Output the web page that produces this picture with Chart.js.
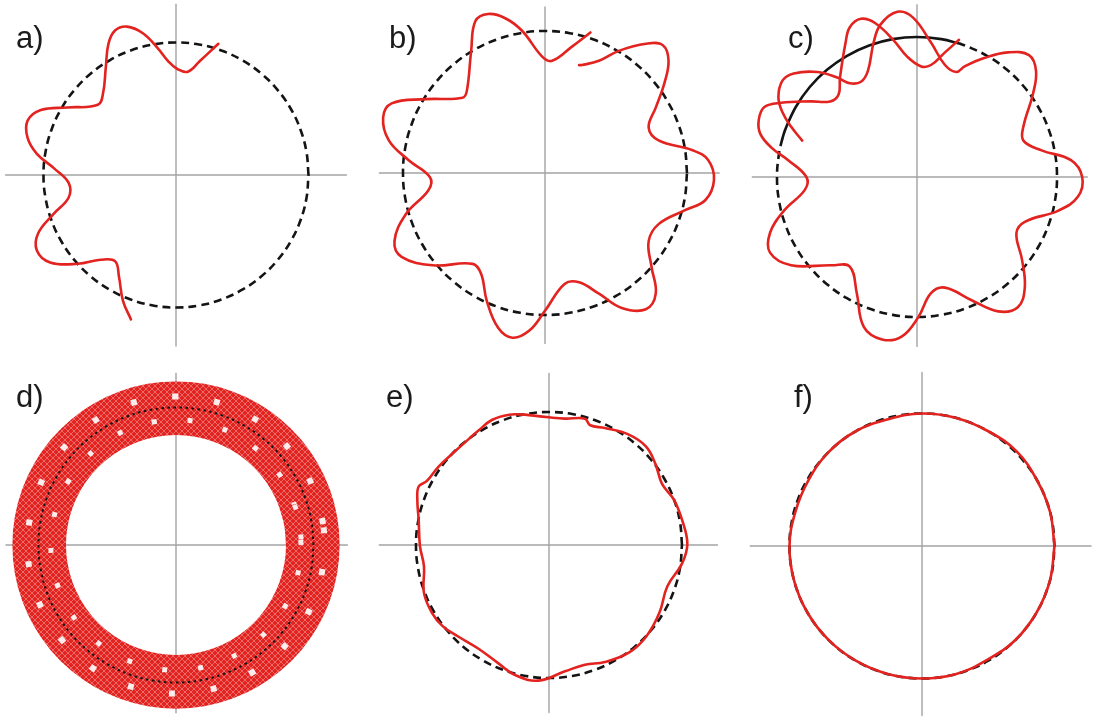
<!DOCTYPE html>
<html>
<head>
<meta charset="utf-8">
<title>Wavy orbits</title>
<script src="https://cdn.jsdelivr.net/npm/chart.js@4.4.1/dist/chart.umd.min.js"></script>
<style>
  html, body { margin: 0; padding: 0; background: #fff; }
  #figure { position: relative; width: 1096px; height: 721px; overflow: hidden; }
  #figure canvas { position: absolute; }
  .label {
    position: absolute;
    font: 31px "Liberation Sans", Arial, sans-serif;
    line-height: 31px;
    color: #1b1b1b;
  }
</style>
</head>
<body>
<div id="figure"></div>
<script>
// Everything is in units of the dashed reference circle (radius 1), y pointing up.
const circleAngles = [0, 10, 20, 30, 40, 50, 60, 70, 80, 90, 100, 110, 120, 130, 140, 150, 160, 170, 180,
  190, 200, 210, 220, 230, 240, 250, 260, 270, 280, 290, 300, 310, 320, 330, 340, 350, 360];
const circleRadius = 1;

// a) short stretch of the orbit
const aX = [0.32, 0.18, 0.09, 0.01, -0.06, -0.14, -0.25, -0.37, -0.46, -0.51, -0.53, -0.55, -0.59, -0.82, -1.02, -1.12,
  -1.12, -1.05, -0.92, -0.81, -0.81, -0.92, -1.04, -1.05, -0.95, -0.74, -0.57, -0.46, -0.43, -0.40, -0.34];
const aY = [0.99, 0.86, 0.78, 0.80, 0.86, 0.96, 1.07, 1.12, 1.09, 0.99, 0.81, 0.62, 0.53, 0.51, 0.49, 0.41,
  0.28, 0.16, 0.05, -0.06, -0.17, -0.29, -0.44, -0.57, -0.66, -0.67, -0.64, -0.65, -0.77, -0.95, -1.09];

// b) about one turn
const bX = [0.32, 0.19, 0.05, -0.02, -0.16, -0.28, -0.40, -0.49, -0.52, -0.55, -0.58, -0.84, -1.08, -1.14, -1.10, -0.96,
  -0.81, -0.82, -0.98, -1.06, -1.01, -0.79, -0.51, -0.45, -0.41, -0.33, -0.23, -0.11, 0.00, 0.14, 0.24, 0.38, 0.54,
  0.71, 0.78, 0.75, 0.73, 0.80, 0.99, 1.13, 1.19, 1.15, 1.04, 0.80, 0.73, 0.78, 0.84, 0.87, 0.83, 0.71, 0.52, 0.38,
  0.26, 0.24];
const bY = [0.99, 0.89, 0.79, 0.82, 1.00, 1.09, 1.12, 1.07, 0.86, 0.58, 0.53, 0.52, 0.49, 0.39, 0.23, 0.09,
  -0.03, -0.12, -0.29, -0.48, -0.59, -0.65, -0.64, -0.71, -0.90, -1.09, -1.16, -1.11, -0.97, -0.78, -0.77, -0.85, -0.95,
  -0.96, -0.85, -0.66, -0.48, -0.36, -0.26, -0.19, -0.05, 0.09, 0.16, 0.23, 0.32, 0.46, 0.63, 0.79, 0.90, 0.91, 0.86,
  0.79, 0.76, 0.76];

// c) a bit more than one turn, the ends overlap at the top left
const cX = [-0.82, -0.90, -0.96, -0.99, -0.96, -0.88, -0.71, -0.57, -0.48, -0.40, -0.35, -0.31, -0.26, -0.14, -0.03,
  0.10, 0.20, 0.28, 0.34, 0.48, 0.65, 0.80, 0.85, 0.83, 0.76, 0.76, 0.89, 1.10, 1.18, 1.15, 1.01, 0.77, 0.71, 0.75,
  0.77, 0.72, 0.58, 0.39, 0.20, 0.10, 0.01, -0.11, -0.25, -0.38, -0.43, -0.48, -0.61, -0.90, -1.05, -1.05, -0.95,
  -0.80, -0.79, -0.92, -1.04, -1.12, -1.13, -1.09, -0.97, -0.76, -0.62, -0.56, -0.55, -0.51, -0.48, -0.40, -0.30,
  -0.17, -0.07, 0.03, 0.10, 0.20, 0.30];
const cY = [0.26, 0.36, 0.46, 0.57, 0.69, 0.74, 0.75, 0.71, 0.67, 0.68, 0.76, 0.96, 1.09, 1.18, 1.14,
  0.96, 0.80, 0.75, 0.79, 0.85, 0.89, 0.87, 0.76, 0.60, 0.36, 0.26, 0.19, 0.12, 0.00, -0.14, -0.24, -0.32, -0.40, -0.59,
  -0.79, -0.93, -0.96, -0.88, -0.79, -0.83, -1.00, -1.14, -1.16, -1.07, -0.83, -0.64, -0.63, -0.63, -0.54, -0.40,
  -0.24, -0.09, 0.00, 0.12, 0.21, 0.31, 0.41, 0.50, 0.53, 0.54, 0.54, 0.59, 0.71, 0.96, 1.07, 1.13, 1.10,
  0.98, 0.86, 0.79, 0.80, 0.89, 0.98];
const cSolidFrom = 72;   // degrees, overlap section drawn as a solid arc
const cSolidTo = 164;

// d) many turns fill a ring
const ringInner = 0.80;
const ringOuter = 1.19;
const ringHoleRadii = [0.91, 1.08];

// e) nearly circular
const eX = [-0.18, 0.00, 0.12, 0.27, 0.31, 0.42, 0.60, 0.73, 0.80, 0.85, 0.94, 1.00, 1.04, 1.00, 0.89, 0.83, 0.73,
  0.60, 0.42, 0.27, 0.12, -0.08, -0.25, -0.38, -0.53, -0.68, -0.80, -0.88, -0.94, -0.94, -0.97, -0.98, -0.99,
  -0.98, -0.92, -0.83, -0.70, -0.60, -0.53, -0.43, -0.30, -0.18];
const eY = [0.98, 0.96, 0.95, 0.95, 0.90, 0.88, 0.83, 0.74, 0.61, 0.46, 0.34, 0.19, 0.01, -0.14, -0.31, -0.51, -0.69,
  -0.81, -0.88, -0.90, -0.95, -1.02, -0.98, -0.89, -0.78, -0.69, -0.61, -0.51, -0.36, -0.16, -0.01, 0.19, 0.34,
  0.44, 0.48, 0.59, 0.71, 0.80, 0.86, 0.94, 0.98, 0.98];

// f) on the circle, read as radius per angle
const fAngles = [0, 15, 30, 45, 60, 75, 90, 105, 120, 135, 150, 165, 180, 195, 210, 225, 240, 255, 270, 285, 300, 315, 330, 345, 360];
const fRadii = [1.00, 1.00, 1.00, 1.01, 1.00, 1.00, 1.00, 0.99, 1.00, 1.00, 0.99, 0.99, 1.00, 1.00, 1.00, 1.00, 1.00,
  1.00, 1.00, 1.00, 0.99, 1.00, 1.00, 1.00, 1.00];

const RED = "#e2231f";
const HALF = 180;

// where each panel sits on the page (centre in px, px per unit, axis reach)
const layout = {
  a: { cx: 175.5, cy: 174.5, r: 132.5, axis: [-1.29, 1.29, 1.29, -1.29], label: [16, 22] },
  b: { cx: 544.5, cy: 172.5, r: 142, axis: [-1.17, 1.23, 1.17, -1.20], label: [389, 22] },
  c: { cx: 916.5, cy: 177, r: 140, axis: [-1.18, 1.22, 1.23, -1.21], label: [788, 22] },
  d: { cx: 175.5, cy: 545, r: 137.5, axis: [-1.24, 1.25, 1.25, -1.22], label: [16, 381] },
  e: { cx: 548.5, cy: 545, r: 133, axis: [-1.28, 1.27, 1.29, -1.26], label: [386, 381] },
  f: { cx: 921.5, cy: 546, r: 132.5, axis: [-1.30, 1.28, 1.31, -1.28], label: [794, 381] }
};

const figure = document.getElementById("figure");

function xyPoints(xs, ys) {
  return xs.map((x, i) => ({ x, y: ys[i] }));
}

function polarPoints(angles, radius) {
  return angles.map((deg, i) => {
    const r = Array.isArray(radius) ? radius[i] : radius;
    const a = (deg * Math.PI) / 180;
    return { x: r * Math.cos(a), y: r * Math.sin(a) };
  });
}

// angles of the circle list between two angles, allowing a wrap past 360
function arcAngles(from, to) {
  const twoTurns = circleAngles.concat(circleAngles.slice(1).map((a) => a + 360));
  return [from, ...twoTurns.filter((a) => a > from && a < to), to];
}

function line(points, style) {
  return Object.assign(
    {
      data: points,
      showLine: true,
      fill: false,
      clip: false,
      pointRadius: 0,
      tension: 0.4,
      borderCapStyle: "round",
      borderJoinStyle: "round"
    },
    style
  );
}

function axisLines(axis) {
  const [left, right, top, bottom] = axis;
  const style = { borderColor: "#a3a3a3", borderWidth: 1.4, tension: 0, borderCapStyle: "butt", order: 10 };
  return [
    line([{ x: left, y: 0 }, { x: right, y: 0 }], style),
    line([{ x: 0, y: top }, { x: 0, y: bottom }], style)
  ];
}

function dashedCircle(order) {
  return line(polarPoints(circleAngles, circleRadius), {
    borderColor: "#141414",
    borderWidth: 2.6,
    borderDash: [8, 5],
    borderCapStyle: "butt",
    order
  });
}

function redCurve(points) {
  return line(points, { borderColor: RED, borderWidth: 2.6, order: 1 });
}

// red with a fine white cross-hatch, like the crossing strands in d)
function latticePattern() {
  const size = 6;
  const tile = document.createElement("canvas");
  tile.width = size;
  tile.height = size;
  const g = tile.getContext("2d");
  g.fillStyle = RED;
  g.fillRect(0, 0, size, size);
  g.strokeStyle = "rgba(255,255,255,0.32)";
  g.lineWidth = 1;
  g.beginPath();
  g.moveTo(-1, -1);
  g.lineTo(size + 1, size + 1);
  g.moveTo(size + 1, -1);
  g.lineTo(-1, size + 1);
  g.stroke();
  return g.createPattern(tile, "repeat");
}

function buildPanel(key, datasets) {
  const panel = layout[key];
  const size = HALF * 2;
  const canvas = document.createElement("canvas");
  canvas.width = size;
  canvas.height = size;
  canvas.style.width = size + "px";
  canvas.style.height = size + "px";
  canvas.style.left = panel.cx - HALF + "px";
  canvas.style.top = panel.cy - HALF + "px";
  figure.appendChild(canvas);

  const label = document.createElement("div");
  label.className = "label";
  label.textContent = key + ")";
  label.style.left = panel.label[0] + "px";
  label.style.top = panel.label[1] + "px";
  figure.appendChild(label);

  const span = HALF / panel.r;
  return new Chart(canvas, {
    type: "scatter",
    data: { datasets: datasets.concat(axisLines(panel.axis)) },
    options: {
      responsive: false,
      animation: false,
      events: [],
      layout: { padding: 0 },
      plugins: { legend: { display: false }, tooltip: { enabled: false } },
      scales: {
        x: { type: "linear", display: false, min: -span, max: span },
        y: { type: "linear", display: false, min: -span, max: span }
      }
    }
  });
}

buildPanel("a", [redCurve(xyPoints(aX, aY)), dashedCircle(2)]);
buildPanel("b", [redCurve(xyPoints(bX, bY)), dashedCircle(2)]);
buildPanel("c", [
  redCurve(xyPoints(cX, cY)),
  line(polarPoints(arcAngles(cSolidFrom, cSolidTo), circleRadius), { borderColor: "#141414", borderWidth: 2.6, order: 2 }),
  line(polarPoints(arcAngles(cSolidTo, cSolidFrom + 360), circleRadius), {
    borderColor: "#141414", borderWidth: 2.6, borderDash: [8, 5], borderCapStyle: "butt", order: 3
  })
]);

// d) the ring is one wide stroke, going a little past a full turn so there is no seam
const ringPx = layout.d.r;
const ringMid = (ringInner + ringOuter) / 2;
const ringTurn = arcAngles(0, 380);
buildPanel("d", [
  line(polarPoints(circleAngles, circleRadius), {
    borderColor: "#151515", borderWidth: 2, borderDash: [2.5, 3.5], borderCapStyle: "butt", order: 1
  }),
  line(polarPoints(ringTurn, ringHoleRadii[0]), {
    borderColor: "rgba(255,255,255,0.9)", borderWidth: 5, borderDash: [5, 31], borderCapStyle: "butt", order: 2
  }),
  line(polarPoints(ringTurn, ringHoleRadii[1]), {
    borderColor: "rgba(255,255,255,0.9)", borderWidth: 6, borderDash: [6, 36], borderDashOffset: 21,
    borderCapStyle: "butt", order: 2
  }),
  line(polarPoints(ringTurn, ringMid), {
    borderColor: latticePattern(), borderWidth: (ringOuter - ringInner) * ringPx, borderCapStyle: "butt", order: 4
  })
]);

buildPanel("e", [redCurve(xyPoints(eX, eY)), dashedCircle(2)]);
buildPanel("f", [redCurve(polarPoints(fAngles, fRadii)), dashedCircle(2)]);
</script>
</body>
</html>
